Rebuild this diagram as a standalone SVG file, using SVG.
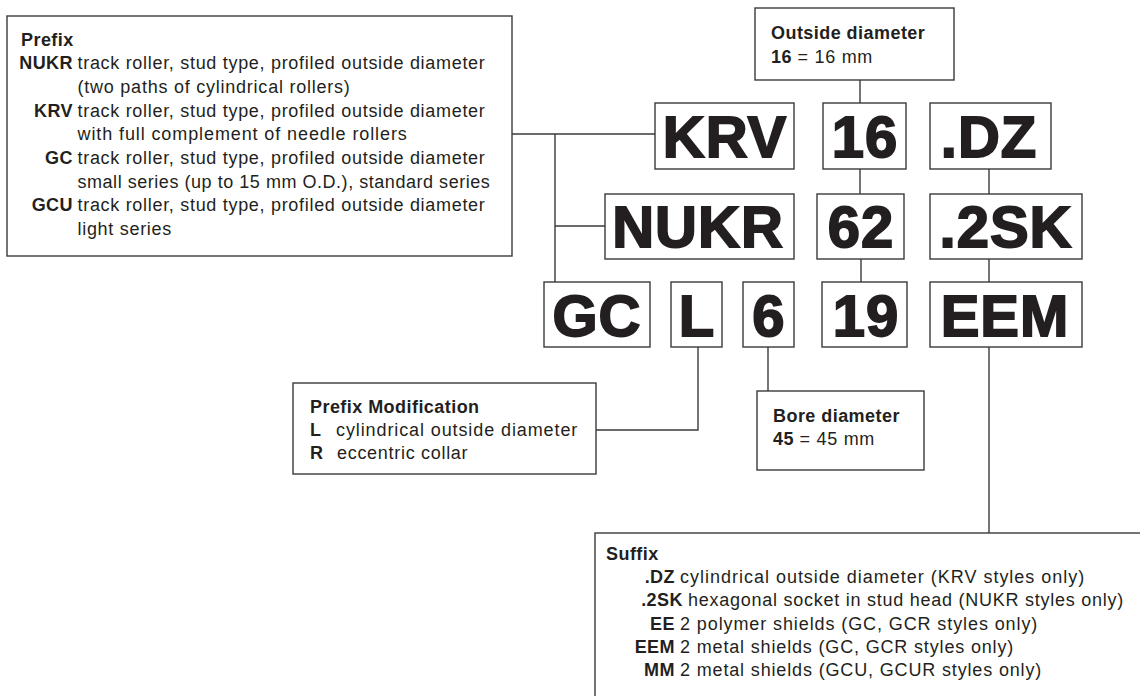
<svg xmlns="http://www.w3.org/2000/svg" width="1140" height="696" viewBox="0 0 1140 696">
<style>
.box{fill:#fff;stroke:#3a3a3a;stroke-width:1.4}
.con{fill:none;stroke:#3a3a3a;stroke-width:1.4}
.t{font-family:"Liberation Sans",Arial,sans-serif;font-size:18px;fill:#231f20;letter-spacing:0.7px}
.b{font-weight:bold;letter-spacing:0.45px}
.big{font-family:"Liberation Sans",Arial,sans-serif;font-size:58px;font-weight:bold;fill:#231f20;stroke:#231f20;stroke-width:1.8;text-anchor:middle;letter-spacing:1px}
.e{text-anchor:end}
</style>
<rect x="0" y="0" width="1140" height="696" fill="#fff"/>
<g id="connectors">
<path class="con" d="M512,134 H655"/>
<path class="con" d="M555,134 V282"/>
<path class="con" d="M555,226 H605"/>
<path class="con" d="M860,80 V103"/>
<path class="con" d="M860,169 V194"/>
<path class="con" d="M861,259 V282"/>
<path class="con" d="M989,169 V194"/>
<path class="con" d="M989,259 V282"/>
<path class="con" d="M989,347 V533"/>
<path class="con" d="M698,347 V430 H596"/>
<path class="con" d="M768,347 V391"/>
</g>
<g id="prefix">
<rect class="box" x="7" y="16" width="505" height="240"/>
<text class="t b" x="21" y="45.5">Prefix</text>
<text class="t b e" x="73" y="69.3">NUKR</text>
<text class="t" x="77.5" y="69.3" textLength="408" lengthAdjust="spacing">track roller, stud type, profiled outside diameter</text>
<text class="t" x="77.5" y="92.8" textLength="273" lengthAdjust="spacing">(two paths of cylindrical rollers)</text>
<text class="t b e" x="73" y="116.5">KRV</text>
<text class="t" x="77.5" y="116.5" textLength="408" lengthAdjust="spacing">track roller, stud type, profiled outside diameter</text>
<text class="t" x="77.5" y="140.2" textLength="330" lengthAdjust="spacing">with full complement of needle rollers</text>
<text class="t b e" x="73" y="164">GC</text>
<text class="t" x="77.5" y="164" textLength="408" lengthAdjust="spacing">track roller, stud type, profiled outside diameter</text>
<text class="t" x="77.5" y="187.7" textLength="413" lengthAdjust="spacing">small series (up to 15 mm O.D.), standard series</text>
<text class="t b e" x="73" y="211.4">GCU</text>
<text class="t" x="77.5" y="211.4" textLength="408" lengthAdjust="spacing">track roller, stud type, profiled outside diameter</text>
<text class="t" x="77.5" y="235">light series</text>
</g>
<g id="outside-diameter">
<rect class="box" x="755" y="8" width="199" height="72"/>
<text class="t b" x="771" y="39">Outside diameter</text>
<text class="t" x="771" y="63"><tspan class="b">16</tspan> = 16 mm</text>
</g>
<g id="KRV"><rect class="box" x="655" y="103" width="139" height="66"/><text class="big" x="725" y="157">KRV</text></g>
<g id="n16"><rect class="box" x="823" y="103" width="83" height="66"/><text class="big" x="865" y="157">16</text></g>
<g id="DZ"><rect class="box" x="930" y="103" width="121" height="66"/><text class="big" x="989" y="157">.DZ</text></g>
<g id="NUKR"><rect class="box" x="605" y="194" width="189" height="65"/><text class="big" x="698" y="247">NUKR</text></g>
<g id="n62"><rect class="box" x="817" y="194" width="87" height="65"/><text class="big" x="861" y="247">62</text></g>
<g id="SK2"><rect class="box" x="930" y="194" width="152" height="65"/><text class="big" x="1006" y="247">.2SK</text></g>
<g id="GC"><rect class="box" x="544" y="282" width="106" height="65"/><text class="big" x="597" y="336">GC</text></g>
<g id="L"><rect class="box" x="671" y="282" width="51" height="65"/><text class="big" x="697" y="336">L</text></g>
<g id="n6"><rect class="box" x="743" y="282" width="51" height="65"/><text class="big" x="769" y="336">6</text></g>
<g id="n19"><rect class="box" x="822" y="282" width="85" height="65"/><text class="big" x="866" y="336">19</text></g>
<g id="EEM"><rect class="box" x="930" y="282" width="152" height="65"/><text class="big" x="1005" y="336">EEM</text></g>
<g id="prefix-modification">
<rect class="box" x="293" y="383" width="303" height="91"/>
<text class="t b" x="310" y="413">Prefix Modification</text>
<text class="t b" x="310" y="436">L</text>
<text class="t" x="336" y="436" textLength="242" lengthAdjust="spacing">cylindrical outside diameter</text>
<text class="t b" x="310" y="459">R</text>
<text class="t" x="337" y="459">eccentric collar</text>
</g>
<g id="bore-diameter">
<rect class="box" x="757" y="391" width="167" height="79"/>
<text class="t b" x="773" y="422">Bore diameter</text>
<text class="t" x="773" y="445"><tspan class="b">45</tspan> = 45 mm</text>
</g>
<g id="suffix">
<rect class="box" x="595" y="533" width="600" height="200"/>
<text class="t b" x="606" y="559.5">Suffix</text>
<text class="t b e" x="675" y="583">.DZ</text>
<text class="t" x="680" y="583" textLength="405" lengthAdjust="spacing">cylindrical outside diameter (KRV styles only)</text>
<text class="t b e" x="683" y="606.3">.2SK</text>
<text class="t" x="688" y="606.3" textLength="436" lengthAdjust="spacing">hexagonal socket in stud head (NUKR styles only)</text>
<text class="t b e" x="675" y="629.6">EE</text>
<text class="t" x="680" y="629.6" textLength="358" lengthAdjust="spacing">2 polymer shields (GC, GCR styles only)</text>
<text class="t b e" x="675" y="652.9">EEM</text>
<text class="t" x="680" y="652.9" textLength="334" lengthAdjust="spacing">2 metal shields (GC, GCR styles only)</text>
<text class="t b e" x="675" y="676">MM</text>
<text class="t" x="680" y="676" textLength="362" lengthAdjust="spacing">2 metal shields (GCU, GCUR styles only)</text>
</g>
</svg>
